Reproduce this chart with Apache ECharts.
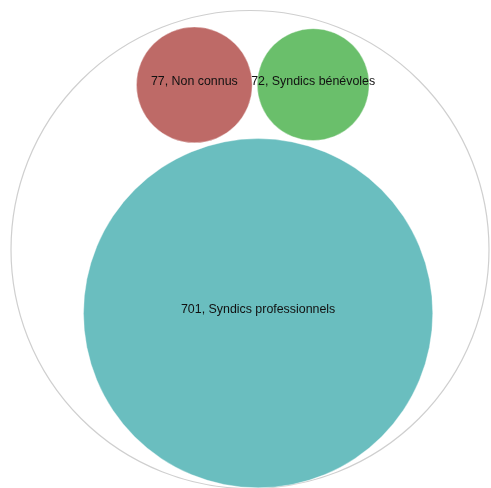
<!DOCTYPE html>
<html>
<head>
<meta charset="utf-8">
<script src="https://cdn.jsdelivr.net/npm/echarts@6/dist/echarts.min.js"></script>
<style>html,body{margin:0;padding:0;background:#fff;}#c{width:491px;height:488px;}</style>
</head>
<body>
<div id="c"></div>
<script>
const names = ['Syndics professionnels', 'Non connus', 'Syndics bénévoles'];
const values = [701, 77, 72];
const colors = ['#6abebf', '#be6a67', '#6abf6b'];

// circle-packing layout (radius ~ sqrt(value)), computed, not typed
const pad = 0.76;
const r = values.map(v => Math.sqrt(v));
const A = {x: 0, y: 0, r: r[0]};
const dAB = r[0] + r[1] + pad, dAC = r[0] + r[2] + pad, dBC = r[1] + r[2] + pad;
const theta = Math.acos((dAB * dAB + dAC * dAC - dBC * dBC) / (2 * dAB * dAC));
const angB = Math.PI / 2 + theta / 2 + 0.018, angC = Math.PI / 2 - theta / 2 + 0.018;
const B = {x: dAB * Math.cos(angB), y: dAB * Math.sin(angB), r: r[1]};
const C = {x: dAC * Math.cos(angC), y: dAC * Math.sin(angC), r: r[2]};
const circles = [A, B, C];

// enclosing circle via pattern search
function f(cx, cy) { return Math.max(...circles.map(c => Math.hypot(c.x - cx, c.y - cy) + c.r)); }
let ex = (A.x + B.x + C.x) / 3, ey = (A.y + B.y + C.y) / 3, step = 10;
while (step > 1e-6) {
  let best = f(ex, ey), moved = false;
  for (const [dx, dy] of [[1,0],[-1,0],[0,1],[0,-1],[1,1],[1,-1],[-1,1],[-1,-1]]) {
    const v = f(ex + dx * step, ey + dy * step);
    if (v < best) { best = v; ex += dx * step; ey += dy * step; moved = true; break; }
  }
  if (!moved) step /= 2;
}
const R = f(ex, ey) + pad / 2;
// the original root circle sits slightly left/up of the packed children
const cx0 = ex - 1.2, cy0 = ey + 0.3;

const data = [[cx0, cy0, R, 0, '', '#ffffff', 1]].concat(
  circles.map((c, i) => [c.x, c.y, c.r, values[i], names[i], colors[i], 0])
);

const chart = echarts.init(document.getElementById('c'), null, {renderer: 'canvas'});
chart.setOption({
  animation: false,
  grid: {left: 11, top: 11, width: 478, height: 478},
  xAxis: {type: 'value', min: cx0 - R, max: cx0 + R, show: false},
  yAxis: {type: 'value', min: cy0 - R, max: cy0 + R, show: false},
  series: [{
    type: 'custom',
    coordinateSystem: 'cartesian2d',
    clip: false,
    data: data,
    renderItem: function (params, api) {
      const p = api.coord([api.value(0), api.value(1)]);
      const rad = api.size([api.value(2), 0])[0];
      const isRoot = api.value(6) === 1;
      const children = [{
        type: 'circle',
        shape: {cx: p[0], cy: p[1], r: rad},
        style: isRoot ? {fill: '#fff', stroke: '#cfcfcf', lineWidth: 1.2}
                      : {fill: data[params.dataIndex][5], stroke: 'rgba(255,255,255,0.35)', lineWidth: 1}
      }];
      if (!isRoot) {
        children.push({
          type: 'text',
          x: p[0], y: p[1] - 3.5,
          style: {
            text: api.value(3) + ', ' + data[params.dataIndex][4],
            fill: '#111111',
            font: '12.4px "Liberation Sans", Arial, sans-serif',
            align: 'center',
            verticalAlign: 'middle'
          }
        });
      }
      return {type: 'group', children: children};
    }
  }]
});
</script>
</body>
</html>
